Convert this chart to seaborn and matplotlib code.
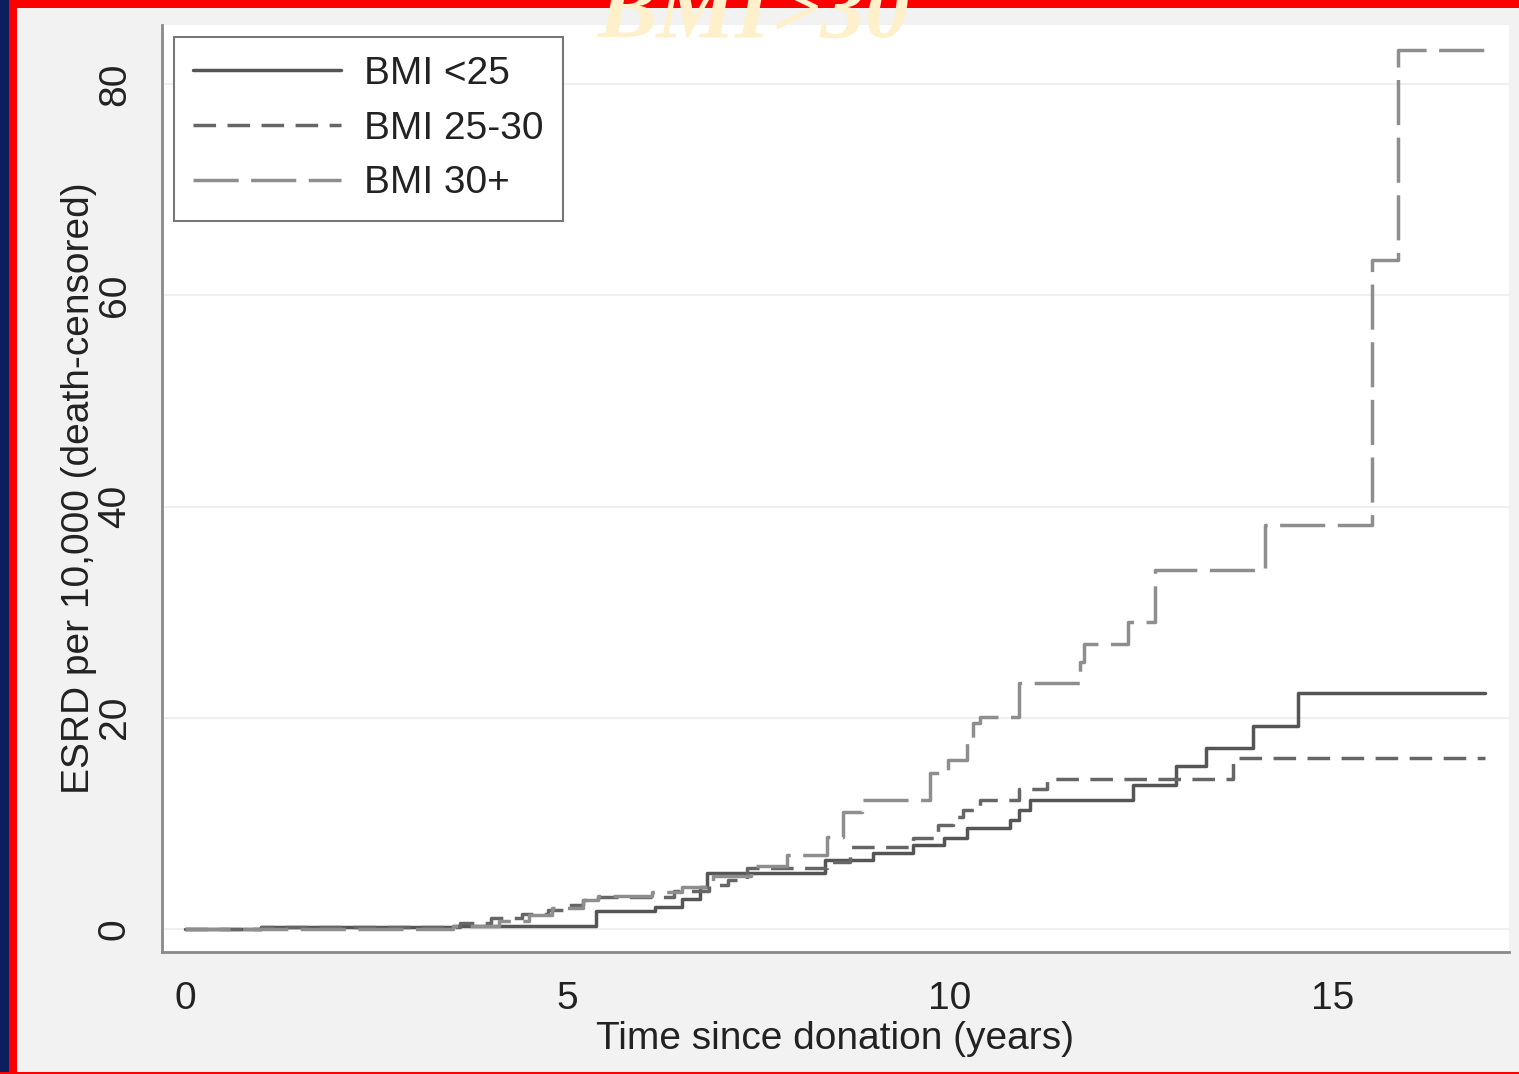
import numpy as np
import pandas as pd
import matplotlib
matplotlib.use("Agg")
import matplotlib.pyplot as plt
import seaborn as sns
from matplotlib.patches import Rectangle

# ---- data ----
groups = ["BMI <25", "BMI 25-30", "BMI 30+"]

t_lt25 = [0, 1.0, 3.5, 5.38, 6.15, 6.5, 6.73, 6.82, 8.37, 9.0, 9.52, 9.93, 10.22,
          10.78, 10.9, 11.05, 12.39, 12.96, 13.35, 13.96, 14.55, 17.0]
y_lt25 = [0, 0.2, 0.3, 1.7, 2.1, 2.8, 4.0, 5.3, 6.5, 7.2, 7.95, 8.6, 9.55,
          10.3, 11.3, 12.2, 13.6, 15.4, 17.1, 19.2, 22.3, 22.3]

t_25_30 = [0, 1.0, 3.6, 4.0, 4.4, 4.75, 5.0, 5.2, 5.4, 6.4, 6.85, 7.1, 7.35, 8.4,
           8.7, 9.52, 9.85, 10.04, 10.17, 10.39, 10.9, 11.27, 13.7, 17.0]
y_25_30 = [0, 0.2, 0.6, 1.0, 1.4, 1.8, 2.3, 2.7, 3.0, 3.6, 4.2, 4.6, 5.8, 6.3,
           7.8, 8.6, 9.85, 10.6, 11.3, 12.2, 13.3, 14.2, 16.2, 16.2]

t_30p = [0, 3.5, 4.1, 4.5, 4.8, 5.2, 5.4, 6.1, 6.5, 6.9, 7.4, 7.87, 8.4, 8.6, 8.85,
         9.74, 9.97, 10.22, 10.3, 10.4, 10.9, 11.7, 11.76, 12.33, 12.68, 14.12,
         15.52, 15.86, 17.0]
y_30p = [0, 0.3, 0.8, 1.3, 2.0, 2.7, 3.1, 3.5, 4.0, 5.0, 6.0, 7.0, 8.7, 11.1, 12.2,
         14.8, 16.0, 18.0, 19.5, 20.1, 23.3, 25.3, 27.0, 29.1, 34.0, 38.3,
         63.3, 83.2, 83.2]

x_ticks = [0, 5, 10, 15]
y_ticks = [0, 20, 40, 60, 80]
title_text = "BMI>30"
x_label = "Time since donation (years)"
y_label = "ESRD per 10,000 (death-censored)"

df = pd.concat([
    pd.DataFrame({"t": t_lt25, "v": y_lt25, "g": groups[0]}),
    pd.DataFrame({"t": t_25_30, "v": y_25_30, "g": groups[1]}),
    pd.DataFrame({"t": t_30p, "v": y_30p, "g": groups[2]}),
], ignore_index=True)

# ---- style ----
sns.set_style("white")
plt.rcParams["font.family"] = ["Liberation Sans", "DejaVu Sans"]

W, H = 1519, 1074
fig = plt.figure(figsize=(W / 100, H / 100), dpi=100, facecolor="#f2f2f2")
ax = fig.add_axes([162 / W, 1 - 952 / H, (1509 - 162) / W, (952 - 25) / H])
ax.set_facecolor("white")

palette = {groups[0]: "#555555", groups[1]: "#666666", groups[2]: "#8e8e8e"}
dashes = {groups[0]: "", groups[1]: (6.5, 3.3), groups[2]: (13.0, 3.6)}

sns.lineplot(data=df, x="t", y="v", hue="g", style="g", palette=palette,
             dashes=dashes, estimator=None, sort=False, linewidth=2.5,
             drawstyle="steps-post", ax=ax, legend=True)

ax.set_xlim(-0.30, 17.31)
ax.set_ylim(-2.18, 85.6)
ax.set_xticks(x_ticks)
ax.set_yticks(y_ticks)
ax.set_xticklabels([str(v) for v in x_ticks])
ax.set_yticklabels([str(v) for v in y_ticks], rotation=90, va="center")
ax.grid(axis="y", color="#efefef", linewidth=1.5)
ax.grid(axis="x", visible=False)
ax.set_axisbelow(True)

for side in ["top", "right"]:
    ax.spines[side].set_visible(False)
for side in ["left", "bottom"]:
    ax.spines[side].set_color("#8a8a8a")
    ax.spines[side].set_linewidth(2)

ax.tick_params(axis="both", which="major", length=11, width=1.5, color="#8a8a8a",
               labelsize=28, labelcolor="#222222", direction="out")
ax.tick_params(axis="x", pad=10)
ax.tick_params(axis="y", pad=10)
ax.set_xlabel(x_label, fontsize=28, color="#222222", labelpad=3)
ax.set_ylabel(y_label, fontsize=28, color="#222222", labelpad=0)

handles, labels = ax.get_legend_handles_labels()
for h in handles:
    h.set_linewidth(2.5)
leg = ax.legend(handles, labels, loc="upper left", fontsize=28, frameon=True,
                fancybox=False, framealpha=1, edgecolor="#777777",
                handlelength=3.8, handletextpad=0.6, labelspacing=0.48,
                borderpad=0.5, borderaxespad=0.3)
leg.get_frame().set_linewidth(1.5)
for t in leg.get_texts():
    t.set_color("#222222")

# ---- slide frame and title ----
fig.patches.append(Rectangle((0, 1 - 8 / H), 1, 8 / H, transform=fig.transFigure,
                             facecolor="#ff0000", edgecolor="none", zorder=0))
fig.patches.append(Rectangle((0, 0), 9 / W, 1, transform=fig.transFigure,
                             facecolor="#0b1f5e", edgecolor="none", zorder=0))
fig.patches.append(Rectangle((9 / W, 0), 8 / W, 1, transform=fig.transFigure,
                             facecolor="#ff0000", edgecolor="none", zorder=0))
fig.patches.append(Rectangle((0, 0), 1, 2 / H, transform=fig.transFigure,
                             facecolor="#ff0000", edgecolor="none", zorder=0))
fig.text(754 / W, 1 - 37 / H, title_text, ha="center", va="baseline",
         fontsize=64, fontweight="bold", fontstyle="italic",
         family=["Liberation Serif", "DejaVu Serif"], color="#fff0cc", zorder=10)

fig.savefig("out.png", dpi=100, facecolor=fig.get_facecolor())
